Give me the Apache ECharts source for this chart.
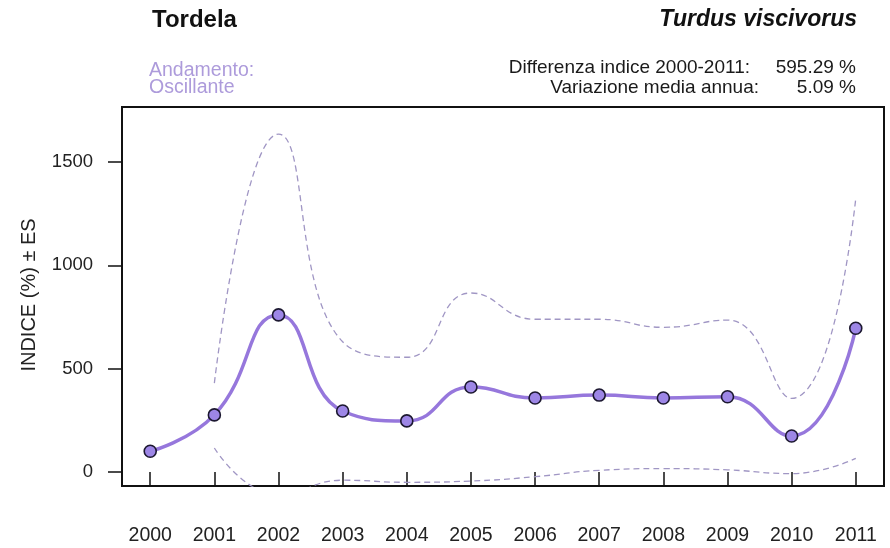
<!DOCTYPE html>
<html>
<head>
<meta charset="utf-8">
<script src="https://cdn.jsdelivr.net/npm/echarts@6/dist/echarts.min.js"></script>
<style>
  html, body { margin: 0; padding: 0; background: #ffffff; }
  #chart { width: 890px; height: 548px; }
</style>
</head>
<body>
<div id="chart"></div>
<script>
// Annual population index (%) of Turdus viscivorus, 2000 = 100, with ± standard error band
const years = [2000, 2001, 2002, 2003, 2004, 2005, 2006, 2007, 2008, 2009, 2010, 2011];
const indexValues = [100, 276, 760, 295, 247, 411, 358, 372, 358, 364, 174, 695.29];
const upperValues = [null, 430, 1635, 630, 555, 866, 739, 739, 700, 735, 356, 1324];
const lowerValues = [null, 116, -110, -40, -50, -44, -23, 8, 16, 10, -8, 66];
const yTicks = [0, 500, 1000, 1500];

const FONT = '"Liberation Sans", Arial, sans-serif';
const LINE_COLOR = '#9677dc';
const BAND_COLOR = '#a096c4';
const LABEL_PURPLE = '#ad9bdb';

const pairs = (vals) => years.map((y, i) => [y, vals[i]]);

const chart = echarts.init(document.getElementById('chart'), null, { renderer: 'canvas' });

chart.setOption({
  backgroundColor: '#ffffff',
  animation: false,
  grid: {
    left: 122, top: 107, right: 6, bottom: 62,
    show: true, borderColor: '#111111', borderWidth: 2, backgroundColor: 'transparent'
  },
  xAxis: {
    type: 'value',
    min: 1999.56,
    max: 2011.44,
    axisLine: { show: false },
    splitLine: { show: false },
    axisTick: {
      show: true, length: 14, customValues: years,
      lineStyle: { color: '#111111', width: 1.5 }
    },
    axisLabel: {
      customValues: years, margin: 40, color: '#222222',
      fontFamily: FONT, fontSize: 19.5,
      formatter: (v) => String(v)
    }
  },
  yAxis: {
    type: 'value',
    min: -68,
    max: 1766,
    axisLine: { show: false },
    splitLine: { show: false },
    axisTick: {
      show: true, length: 14, customValues: yTicks,
      lineStyle: { color: '#111111', width: 1.5 }
    },
    axisLabel: {
      customValues: yTicks, margin: 29, color: '#222222',
      fontFamily: FONT, fontSize: 18.5,
      formatter: (v) => String(v)
    }
  },
  series: [
    {
      name: 'ES+',
      type: 'line',
      data: pairs(upperValues),
      smooth: 0.5,
      showSymbol: false,
      lineStyle: { color: BAND_COLOR, width: 1.3, type: [6, 4] },
      clip: true,
      z: 2
    },
    {
      name: 'ES-',
      type: 'line',
      data: pairs(lowerValues),
      smooth: 0.5,
      showSymbol: false,
      lineStyle: { color: BAND_COLOR, width: 1.3, type: [6, 4] },
      clip: true,
      z: 2
    },
    {
      name: 'Indice',
      type: 'line',
      data: pairs(indexValues),
      smooth: 0.5,
      symbol: 'circle',
      symbolSize: 12,
      showSymbol: true,
      lineStyle: { color: LINE_COLOR, width: 3.5 },
      itemStyle: { color: '#9d86e6', borderColor: '#1c1830', borderWidth: 1.6 },
      clip: false,
      z: 3
    }
  ],
  graphic: [
    {
      type: 'text', left: 152, top: 8,
      style: { text: 'Tordela', font: 'bold 24px ' + FONT, fill: '#111111' }
    },
    {
      type: 'text', right: 33, top: 8,
      style: { text: 'Turdus viscivorus', font: 'italic bold 23px ' + FONT, fill: '#111111' }
    },
    {
      type: 'text', x: 149, y: 71,
      style: { text: 'Andamento:', font: '19.5px ' + FONT, fill: LABEL_PURPLE, verticalAlign: 'middle' }
    },
    {
      type: 'text', x: 149, y: 88,
      style: { text: 'Oscillante', font: '19.5px ' + FONT, fill: LABEL_PURPLE, verticalAlign: 'middle' }
    },
    {
      type: 'text', x: 750, y: 68,
      style: { text: 'Differenza indice 2000-2011:', font: '19px ' + FONT, fill: '#1a1a1a',
               align: 'right', verticalAlign: 'middle' }
    },
    {
      type: 'text', x: 856, y: 68,
      style: { text: '595.29 %', font: '19px ' + FONT, fill: '#1a1a1a',
               align: 'right', verticalAlign: 'middle' }
    },
    {
      type: 'text', x: 759, y: 88,
      style: { text: 'Variazione media annua:', font: '19px ' + FONT, fill: '#1a1a1a',
               align: 'right', verticalAlign: 'middle' }
    },
    {
      type: 'text', x: 856, y: 88,
      style: { text: '5.09 %', font: '19px ' + FONT, fill: '#1a1a1a',
               align: 'right', verticalAlign: 'middle' }
    },
    {
      type: 'text', x: 29, y: 295, rotation: Math.PI / 2,
      style: { text: 'INDICE (%) ± ES', font: '20px ' + FONT, fill: '#222222',
               align: 'center', verticalAlign: 'middle' }
    }
  ]
});
</script>
</body>
</html>
